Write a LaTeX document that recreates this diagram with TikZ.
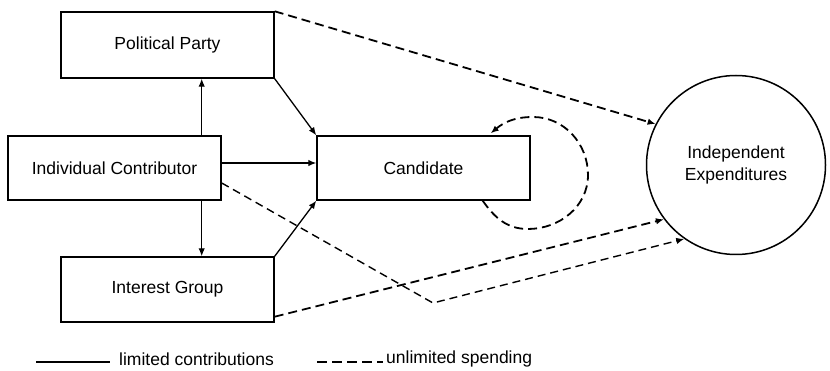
\documentclass[tikz,border=0pt]{standalone}
\usepackage{fontspec}
\setmainfont{Liberation Sans}
\usetikzlibrary{arrows.meta}
\begin{document}
\begin{tikzpicture}[x=1pt,y=-1pt,
  font=\fontsize{17.5}{21}\selectfont,
  box/.style={draw, line width=1.4pt, minimum width=213pt, inner sep=0pt},
  limited/.style={line width=1.3pt, -{Latex[length=8pt,width=6.5pt]}},
  unlimited/.style={line width=1.8pt, dash pattern=on 9pt off 5pt, -{Latex[length=8pt,width=6.5pt]}},
  thinunl/.style={line width=1.4pt, dash pattern=on 8pt off 5pt, -{Latex[length=8pt,width=6.5pt]}}]
  \useasboundingbox (0,0) rectangle (830,371);

  % boxes
  \node[box, minimum height=66pt] (pp)   at (167.5,45)  {Political Party};
  \node[box, minimum height=64pt] (ic)   at (114.5,168) {Individual Contributor};
  \node[box, minimum height=64pt] (cand) at (423.5,168) {Candidate};
  \node[box, minimum height=65pt] (ig)   at (167.5,289.5) {Interest Group};
  \node[draw, circle, line width=1.5pt, minimum size=179pt, inner sep=0pt,
        align=center, font=\fontsize{17.5}{21.5}\selectfont] (ie) at (736,165)
        {Independent\\Expenditures};

  % limited contributions
  \coordinate (icup) at ([xshift=-20pt]ic.north east);
  \coordinate (icdn) at ([xshift=-20pt]ic.south east);
  \draw[limited] (icup) -- (icup |- pp.south);
  \draw[limited] (icdn) -- (icdn |- ig.north);
  \draw[limited] ([yshift=5pt]ic.east) -- ([yshift=5pt]cand.west);
  \draw[limited] (pp.south east) -- (cand.north west);
  \draw[limited] (ig.north east) -- (cand.south west);

  % unlimited spending
  \draw[unlimited] (pp.north east) -- (ie.153);
  \draw[unlimited] ([xshift=-48pt]cand.south east)
    to[out=-55,in=180] (528,229) to[out=0,in=-90] (588,175)
    to[out=90,in=0] (533,117) to[out=180,in=40] ([xshift=-40pt,yshift=2pt]cand.north east);
  \coordinate (bend) at (433,303);
  \draw[thinunl] ([yshift=-15pt]ic.east) -- (bend) -- (ie.235);
  \draw[unlimited] ([yshift=6pt]ig.south east) -- (ie.217);

  % legend
  \coordinate (l1a) at (36,362);
  \coordinate (l1b) at (110,362);
  \draw[line width=1.2pt] (l1a) -- (l1b);
  \node[anchor=west, inner sep=0pt] (lt1) at (119,359) {limited contributions};
  \coordinate (l2a) at (317,362);
  \coordinate (l2b) at (383,362);
  \draw[line width=1.8pt, dash pattern=on 10pt off 5pt] (l2a) -- (l2b);
  \node[anchor=west, inner sep=0pt] (lt2) at (386,359) {unlimited spending};
\end{tikzpicture}
\end{document}
